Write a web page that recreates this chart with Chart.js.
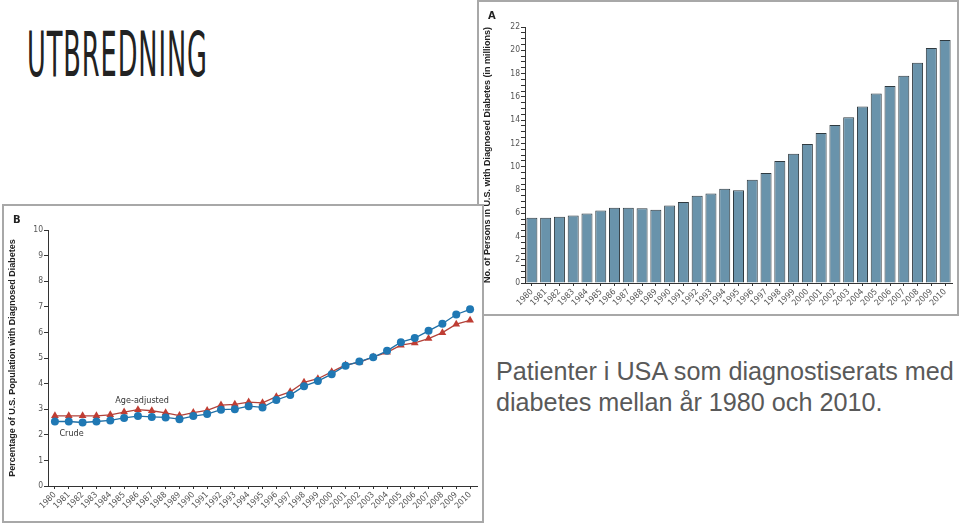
<!DOCTYPE html>
<html>
<head>
<meta charset="utf-8">
<script src="https://cdn.jsdelivr.net/npm/chart.js@4.4.1/dist/chart.umd.min.js"></script>
<style>
  body { margin: 0; width: 960px; height: 526px; background: #fff; position: relative; overflow: hidden; font-family: "Liberation Sans", Arial, sans-serif; }
  .title { position: absolute; left: 27px; top: 18px; font-family: "Liberation Sans Narrow", "DejaVu Sans Condensed", sans-serif; font-size: 62px; color: #222; text-transform: uppercase; transform: scaleX(0.46); transform-origin: left top; letter-spacing: 2px; }
  .panel { position: absolute; background: #fff; border: 2px solid #a8a8a8; box-sizing: border-box; }
  #panelA { left: 477px; top: 0px; width: 482px; height: 316px; }
  #panelB { left: 2px; top: 204px; width: 482px; height: 319px; }
  .panel .tag { position: absolute; font: bold 10px "DejaVu Sans", sans-serif; color: #222; }
  .caption { position: absolute; left: 496px; top: 356px; font-size: 25.2px; line-height: 31px; color: #595959; white-space: nowrap; }
</style>
</head>
<body>
<div class="title">Utbredning</div>

<div class="panel" id="panelA">
  <div class="tag" style="left:9px;top:8px">A</div>
  <canvas id="chartA" width="478" height="312"></canvas>
</div>

<div class="panel" id="panelB">
  <div class="tag" style="left:9px;top:8px">B</div>
  <canvas id="chartB" width="478" height="315"></canvas>
</div>

<div class="caption">Patienter i USA som diagnostiserats med<br>diabetes mellan år 1980 och 2010.</div>

<script>
const years = ['1980','1981','1982','1983','1984','1985','1986','1987','1988','1989','1990','1991','1992','1993','1994','1995','1996','1997','1998','1999','2000','2001','2002','2003','2004','2005','2006','2007','2008','2009','2010'];

// Panel A: persons with diagnosed diabetes (millions)
const persons = [5.6, 5.6, 5.7, 5.8, 5.97, 6.22, 6.46, 6.46, 6.43, 6.3, 6.66, 6.97, 7.5, 7.7, 8.1, 7.98, 8.88, 9.45, 10.49, 11.1, 11.94, 12.89, 13.58, 14.24, 15.16, 16.28, 16.94, 17.8, 18.93, 20.2, 20.88];

// Panel B: percentage of population
const crude = [2.52, 2.52, 2.48, 2.52, 2.56, 2.66, 2.73, 2.7, 2.68, 2.61, 2.73, 2.81, 2.98, 3.0, 3.12, 3.07, 3.36, 3.55, 3.9, 4.1, 4.37, 4.7, 4.86, 5.03, 5.28, 5.62, 5.78, 6.06, 6.34, 6.7, 6.9];
const ageAdjusted = [2.74, 2.74, 2.74, 2.74, 2.78, 2.89, 2.98, 2.94, 2.86, 2.75, 2.87, 2.95, 3.16, 3.19, 3.28, 3.25, 3.49, 3.68, 4.05, 4.19, 4.46, 4.73, 4.83, 5.04, 5.22, 5.5, 5.59, 5.76, 5.99, 6.32, 6.47];

const tickFont = { family: "DejaVu Sans Condensed, sans-serif", size: 8.5 };
const titleFont = { family: "Liberation Sans Narrow, sans-serif", size: 9, weight: 'bold' };
const axisColor = '#333';
const tickColor = '#555';

const xAxis = (h) => ({
  offset: true,
  grid: { display: true, drawOnChartArea: false, offset: false, tickLength: 3, color: axisColor },
  border: { color: axisColor, width: 1 },
  ticks: { color: tickColor, font: tickFont, minRotation: 45, maxRotation: 45, autoSkip: false, padding: 1 },
  afterFit: (s) => { s.height = h; }
});

new Chart(document.getElementById('chartA'), {
  type: 'bar',
  data: {
    labels: years,
    datasets: [{
      label: 'No. of persons',
      data: persons,
      backgroundColor: '#6993ab',
      borderColor: '#2f3a40',
      borderWidth: 1,
      categoryPercentage: 1,
      barPercentage: 0.8
    }]
  },
  options: {
    responsive: false,
    animation: false,
    layout: { padding: { top: 25, right: 5, left: 0, bottom: 0 } },
    plugins: { legend: { display: false }, tooltip: { enabled: false } },
    scales: {
      x: xAxis(31),
      y: {
        min: 0, max: 22,
        grid: { drawOnChartArea: false, tickLength: 4, color: axisColor },
        border: { color: axisColor, width: 1 },
        ticks: {
          stepSize: 0.5, autoSkip: false, color: tickColor, font: tickFont, padding: 1,
          callback: (v) => (v % 2 === 0 ? v : '')
        },
        title: { display: true, text: 'No. of Persons in U.S. with Diagnosed Diabetes (in millions)', color: '#222', font: titleFont, padding: 3 },
        afterFit: (s) => { s.width = 46; }
      }
    }
  }
});

// text labels next to the two curves
const curveLabels = {
  id: 'curveLabels',
  afterDatasetsDraw(chart) {
    const { ctx, scales: { x, y } } = chart;
    ctx.save();
    ctx.font = '9px "DejaVu Sans Condensed", sans-serif';
    ctx.fillStyle = '#333';
    ctx.textAlign = 'center';
    ctx.textBaseline = 'middle';
    const px = (i, frac) => x.getPixelForValue(i) + frac * (x.getPixelForValue(1) - x.getPixelForValue(0));
    ctx.fillText('Age-adjusted', px(6, 0.3), y.getPixelForValue(3.33));
    ctx.fillText('Crude', px(1, 0.2), y.getPixelForValue(2.06));
    ctx.restore();
  }
};

new Chart(document.getElementById('chartB'), {
  type: 'line',
  data: {
    labels: years,
    datasets: [
      {
        label: 'Crude',
        data: crude,
        borderColor: '#1f6fa6',
        backgroundColor: '#1f78b4',
        borderWidth: 1.3,
        pointStyle: 'circle',
        pointRadius: 4,
        pointBorderWidth: 0,
        tension: 0
      },
      {
        label: 'Age-adjusted',
        data: ageAdjusted,
        borderColor: '#b2423a',
        backgroundColor: '#bf3d33',
        borderWidth: 1.3,
        pointStyle: 'triangle',
        pointRadius: 4.5,
        pointBorderWidth: 0,
        tension: 0
      }
    ]
  },
  options: {
    responsive: false,
    animation: false,
    layout: { padding: { top: 24, right: 5, left: 0, bottom: 0 } },
    plugins: { legend: { display: false }, tooltip: { enabled: false } },
    scales: {
      x: xAxis(35),
      y: {
        min: 0, max: 10,
        grid: { drawOnChartArea: false, tickLength: 4, color: axisColor },
        border: { color: axisColor, width: 1 },
        ticks: { stepSize: 1, color: tickColor, font: tickFont, padding: 1 },
        title: { display: true, text: 'Percentage of U.S. Population with Diagnosed Diabetes', color: '#222', font: titleFont, padding: 3 },
        afterFit: (s) => { s.width = 44; }
      }
    }
  },
  plugins: [curveLabels]
});
</script>
</body>
</html>
